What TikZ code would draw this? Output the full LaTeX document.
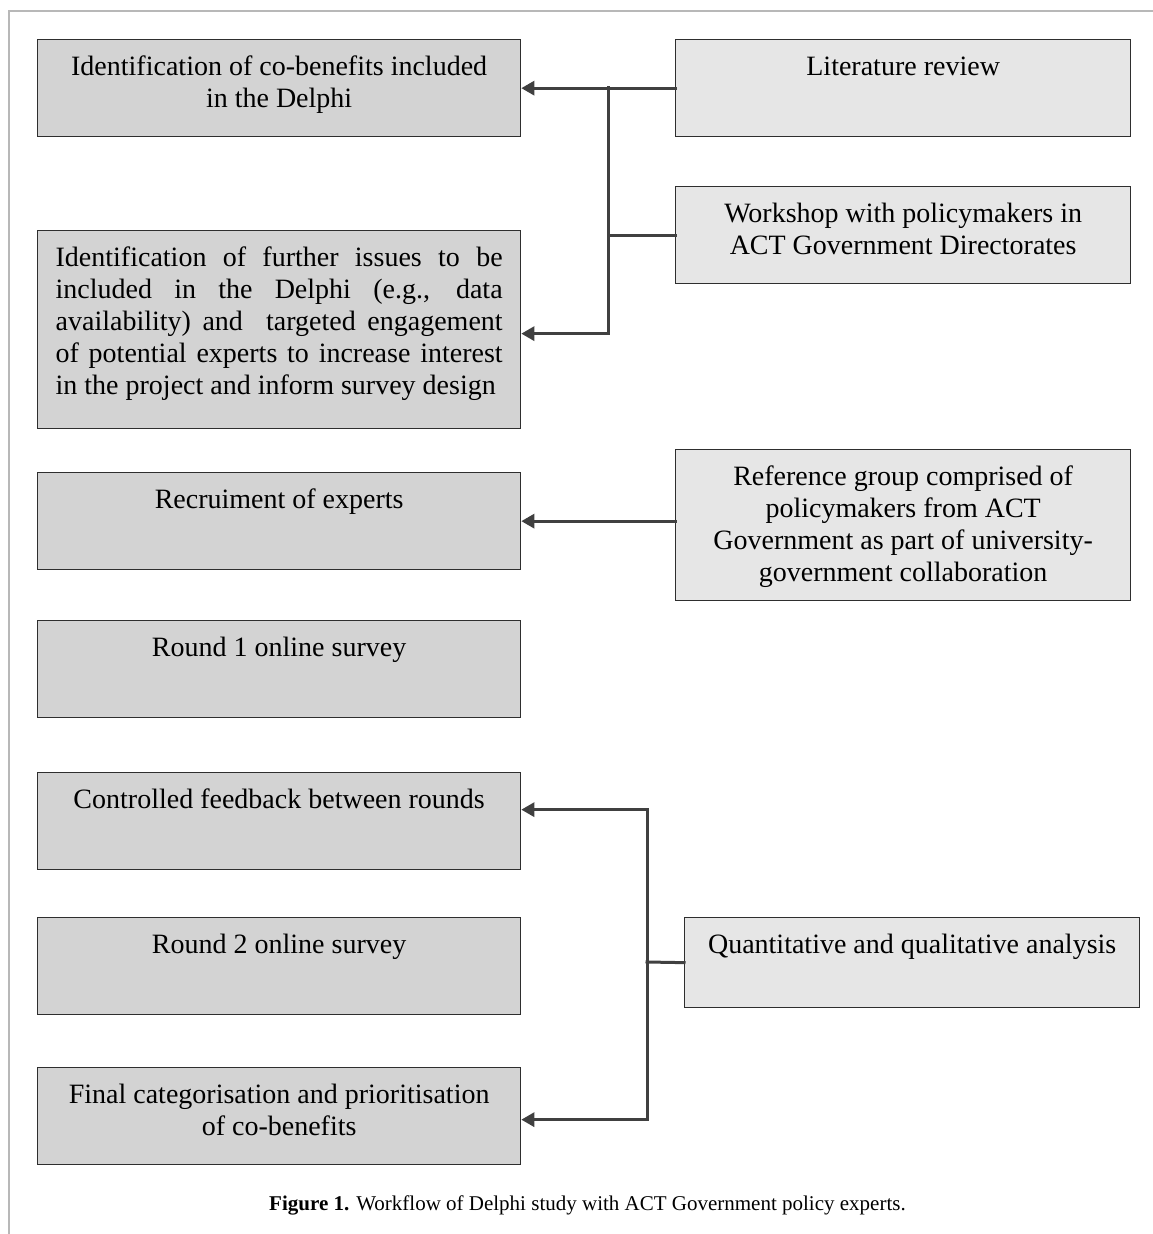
\documentclass[tikz,border=0pt]{standalone}
\usepackage{fontspec}
\setmainfont{Liberation Serif}
\usetikzlibrary{arrows.meta,calc}
\definecolor{lfill}{HTML}{D3D3D3}
\definecolor{rfill}{HTML}{E6E6E6}
\definecolor{edge}{HTML}{2E2E2E}
\definecolor{conn}{HTML}{404040}
\definecolor{frame}{HTML}{B8B8B8}
\begin{document}
\begin{tikzpicture}[x=1pt,y=-1pt,
  lbox/.style={draw=edge,line width=1.3pt,fill=lfill,minimum width=483pt,minimum height=97pt,anchor=north west,inner sep=0pt},
  rbox/.style={draw=edge,line width=1.3pt,fill=rfill,minimum width=455pt,anchor=north west,inner sep=0pt},
  txt/.style={inner sep=0pt,anchor=north,font=\fontsize{28}{32}\selectfont,align=center},
  wire/.style={draw=conn,line width=3pt,line cap=rect},
  arr/.style={wire,-{Triangle[length=13pt,width=14pt]}}]
\useasboundingbox (0,0) rectangle (1153,1234);
% frame
\draw[frame,line width=1.5pt] (9,1234) -- (9,11) -- (1153,11);
% left boxes
\node[lbox] (B1) at (37,39) {};
\node[lbox,minimum height=198pt] (B2) at (37,230) {};
\node[lbox] (B3) at (37,472) {};
\node[lbox] (B4) at (37,620) {};
\node[lbox] (B5) at (37,772) {};
\node[lbox] (B6) at (37,917) {};
\node[lbox] (B7) at (37,1067) {};
% right boxes
\node[rbox,minimum height=97pt] (R1) at (675,39) {};
\node[rbox,minimum height=97pt] (R2) at (675,186) {};
\node[rbox,minimum height=151pt] (R3) at (675,449) {};
\node[rbox,minimum height=90pt] (R4) at (684,917) {};
% texts
\node[txt] (T1) at ([yshift=-13.6pt]B1.north) {\strut Identification of co-benefits included\\in the Delphi};
\node[txt,text width=447pt,align=justify] (T2) at ([yshift=-13.6pt]B2.north) {\strut Identification of further issues to be\linebreak included in the Delphi (e.g., data\linebreak availability) and\ \ targeted engagement\linebreak of potential experts to increase interest\linebreak in the project and inform survey design};
\node[txt] (T3) at ([yshift=-13.6pt]B3.north) {\strut Recruiment of experts};
\node[txt] (T4) at ([yshift=-13.6pt]B4.north) {\strut Round 1 online survey};
\node[txt] (T5) at ([yshift=-13.6pt]B5.north) {\strut Controlled feedback between rounds};
\node[txt] (T6) at ([yshift=-13.6pt]B6.north) {\strut Round 2 online survey};
\node[txt] (T7) at ([yshift=-13.6pt]B7.north) {\strut Final categorisation and prioritisation\\of co-benefits};
\node[txt] (U1) at ([yshift=-13.6pt]R1.north) {\strut Literature review};
\node[txt] (U2) at ([yshift=-13.6pt]R2.north) {\strut Workshop with policymakers in\\ACT Government Directorates};
\node[txt] (U3) at ([yshift=-13.6pt]R3.north) {\strut Reference group comprised of\\policymakers from ACT\\Government as part of university-\\government collaboration};
\node[txt] (U4) at ([yshift=-13.6pt]R4.north) {\strut Quantitative and qualitative analysis};
% connectors
\coordinate (J1) at (608,87.5);
\draw[arr] (R1.west) -- (B1.east);
\draw[wire] (J1) |- (R2.west);
\draw[arr] (J1) |- ([yshift=-4pt]B2.east);
\draw[arr] (R3.west |- B3.east) -- (B3.east);
\coordinate (J2) at (647,962);
\draw[wire] (R4.west) -- (J2);
\draw[arr] (J2) |- ([yshift=11.5pt]B5.east);
\draw[arr] (J2) |- ([yshift=-3.5pt]B7.east);
% caption
\node[font=\fontsize{21}{25}\selectfont,anchor=base,inner sep=0pt] (cap) at (587.5,1210) {\textbf{Figure 1.} Workflow of Delphi study with ACT Government policy experts.};
\end{tikzpicture}
\end{document}
